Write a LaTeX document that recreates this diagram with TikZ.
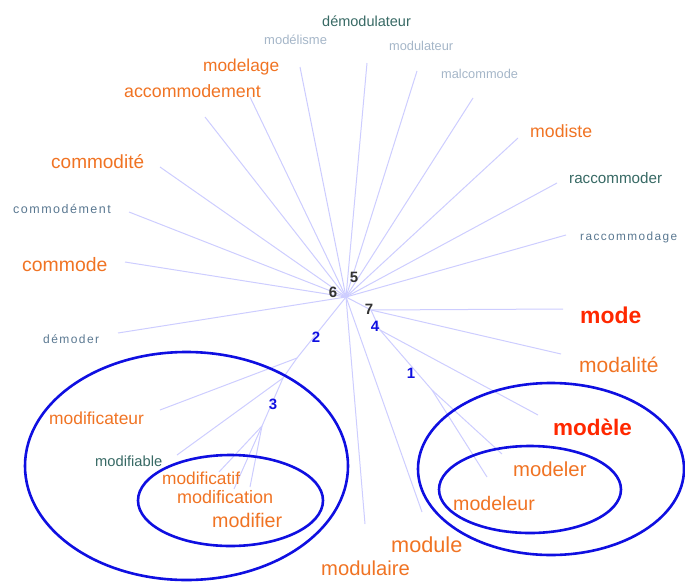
\documentclass[tikz,border=0pt]{standalone}
\usepackage{fontspec}
\setmainfont{Liberation Sans}
\definecolor{orng}{RGB}{240,115,35}
\definecolor{hotred}{RGB}{255,40,0}
\definecolor{tealc}{RGB}{55,105,100}
\definecolor{slate}{RGB}{90,120,145}
\definecolor{pale}{RGB}{165,182,200}
\definecolor{edgec}{RGB}{205,205,255}
\definecolor{ringc}{RGB}{15,15,225}

\begin{document}
\begin{tikzpicture}[x=1pt,y=-1pt,
        lbl/.style={anchor=base west,inner sep=0pt},
        org/.style={lbl,text=orng,font=\fontsize{#1}{#1}\selectfont},
        hot/.style={lbl,text=hotred,font=\fontsize{#1}{#1}\selectfont\bfseries},
        tl/.style={lbl,text=tealc,font=\fontsize{#1}{#1}\selectfont},
        pl/.style={lbl,text=pale,font=\fontsize{#1}{#1}\selectfont},
        sp/.style={lbl,text=slate,font=\fontsize{#1}{#1}\selectfont\addfontfeature{LetterSpace=12}},
        num/.style={inner sep=0pt,font=\fontsize{15}{15}\selectfont\bfseries,text=#1},
        ray/.style={draw=edgec,line width=1pt},
        ring/.style={draw=ringc,line width=2.6pt}]
        \useasboundingbox (0,0) rectangle (685,581);
        % hubs of the tree
        \coordinate (c) at (346,297);
        \coordinate (h7) at (371,310);
        \coordinate (h4) at (380,330);
        \coordinate (h1) at (432,390);
        \coordinate (h2) at (297,358);
        \coordinate (h2b) at (283,378);
        \coordinate (h3) at (262,426);
        % free ends of the rays
        \coordinate (edmd) at (367,63);
        \coordinate (emls) at (300,67);
        \coordinate (emlg) at (250,97);
        \coordinate (eacc) at (205,117);
        \coordinate (emdl) at (417,71);
        \coordinate (emal) at (473,98);
        \coordinate (emst) at (518,138);
        \coordinate (erac) at (557,183);
        \coordinate (erag) at (566,235);
        \coordinate (ecmt) at (160,167);
        \coordinate (ecmd) at (129,212);
        \coordinate (ecom) at (125,262);
        \coordinate (edem) at (118,333);
        \coordinate (emod) at (563,309);
        \coordinate (emdt) at (561,354);
        \coordinate (emdl2) at (538,415);
        \coordinate (emdr) at (502,454);
        \coordinate (emdu) at (487,477);
        \coordinate (emle) at (422,512);
        \coordinate (emla) at (365,524);
        \coordinate (emfc) at (160,410);
        \coordinate (emfb) at (177,455);
        \coordinate (emft) at (219,472);
        \coordinate (emfn) at (234,489);
        \coordinate (emfr) at (250,487);

        \foreach \e in {edmd,emls,emlg,eacc,emdl,emal,emst,erac,erag,ecmt,ecmd,ecom,edem,emle,emla}
            \draw[ray] (c) -- (\e);
        \draw[ray] (c) -- (h7) -- (emod);
        \draw[ray] (h7) -- (emdt);
        \draw[ray] (h7) -- (h4) -- (emdl2);
        \draw[ray] (h4) -- (h1) -- (emdr);
        \draw[ray] (h1) -- (emdu);
        \draw[ray] (c) -- (h2) -- (emfc);
        \draw[ray] (h2) -- (h2b) -- (emfb);
        \draw[ray] (h2b) -- (h3) -- (emft);
        \draw[ray] (h3) -- (emfn);
        \draw[ray] (h3) -- (emfr);

        % groups
        \draw[ring] (186.5,466) ellipse [x radius=161.5,y radius=114];
        \draw[ring] (230.5,500.5) ellipse [x radius=92.5,y radius=45.5];
        \draw[ring] (551,469) ellipse [x radius=133,y radius=86];
        \draw[ring] (530,489.5) ellipse [x radius=91,y radius=43.5];

        % words
        \node[tl=14.5] (dmd) at (322,26) {démodulateur};
        \node[pl=13] (mls) at (264,44) {modélisme};
        \node[pl=12.8] (mdl) at (389,50) {modulateur};
        \node[pl=12.8] (mal) at (441,78) {malcommode};
        \node[org=17.3] (mlg) at (203,71) {modelage};
        \node[org=17.8] (acc) at (124,97) {accommodement};
        \node[org=17.7] (mst) at (530,137) {modiste};
        \node[tl=15.2] (rac) at (569,183) {raccommoder};
        \node[sp=11.8] (rag) at (580,240) {raccommodage};
        \node[org=19] (cmt) at (51,168) {commodité};
        \node[sp=12.5] (cmd) at (13,213) {commodément};
        \node[org=19.4] (com) at (22,271) {commode};
        \node[sp=12] (dem) at (43,343) {démoder};
        \node[hot=22.9] (mod) at (580,323) {mode};
        \node[org=21] (mdt) at (579,372) {modalité};
        \node[hot=22.5] (mdle) at (553,435) {modèle};
        \node[org=20.3] (mdr) at (513,476) {modeler};
        \node[org=19.6] (mdu) at (453,510) {modeleur};
        \node[org=21.7] (mle) at (391,552) {module};
        \node[org=20.2] (mla) at (321,575) {modulaire};
        \node[org=17.4] (mfc) at (49,424) {modificateur};
        \node[tl=14.7] (mfb) at (95,466) {modifiable};
        \node[org=17.3] (mft) at (162,484) {modificatif};
        \node[org=18] (mfn) at (177,503) {modification};
        \node[org=19.7] (mfr) at (212,527) {modifier};

        % cluster numbers
        \node[num=black!80] (n5) at (354,277) {5};
        \node[num=black!80] (n6) at (333,292) {6};
        \node[num=black!80] (n7) at (369,309) {7};
        \node[num=ringc] (n4) at (375,326) {4};
        \node[num=ringc] (n2) at (316,337) {2};
        \node[num=ringc] (n1) at (411,373) {1};
        \node[num=ringc] (n3) at (273,404) {3};
    \end{tikzpicture}
\end{document}
